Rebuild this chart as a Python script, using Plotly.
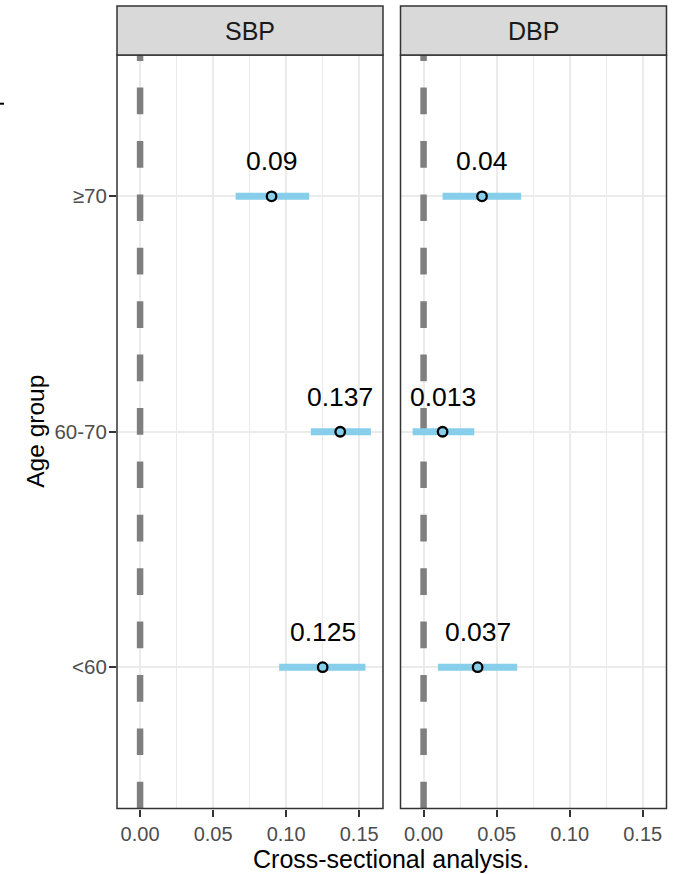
import plotly.graph_objects as go

# Age groups (bottom to top) and estimates with 95% intervals per outcome
age_groups = ["<60", "60-70", "≥70"]
panels = ["SBP", "DBP"]

sbp_est = [0.125, 0.137, 0.09]
sbp_lo = [0.0952, 0.1169, 0.0654]
sbp_hi = [0.1543, 0.158, 0.1158]

dbp_est = [0.037, 0.013, 0.04]
dbp_lo = [0.0098, -0.0075, 0.013]
dbp_hi = [0.0641, 0.0347, 0.0668]

x_ticks = [0.0, 0.05, 0.10, 0.15]
x_ticktext = ["0.00", "0.05", "0.10", "0.15"]

W, H = 676, 874
FONT = "Liberation Sans, Arial, sans-serif"
BLUE = "#87CEEB"
BORDER = "#333333"
GRID = "#EBEBEB"

# pixel geometry of the facet panels
panel_x = [(117, 383), (400.5, 666.5)]
panel_top, panel_bottom = 55, 808.5
strip_top = 6


def px_x(p):
    return p / W


def px_y(p):
    return (H - p) / H


xr = [-0.0158, 0.1663]
yr = [0.4, 3.6]

fig = go.Figure()

series = [(sbp_est, sbp_lo, sbp_hi), (dbp_est, dbp_lo, dbp_hi)]
ypos = list(range(1, len(age_groups) + 1))

for i, (est, lo, hi) in enumerate(series):
    xa = "x" if i == 0 else "x2"
    ya = "y" if i == 0 else "y2"
    # dashed reference line at zero, spanning the whole panel height
    fig.add_trace(go.Scatter(
        x=[0, 0], y=yr, mode="lines", xaxis=xa, yaxis=ya,
        line=dict(color="#7F7F7F", width=6.5, dash="26.7px,26.7px"),
        showlegend=False, hoverinfo="skip", cliponaxis=True,
    ))
    fig.add_trace(go.Scatter(
        x=est, y=ypos, mode="markers", xaxis=xa, yaxis=ya,
        marker=dict(size=9.5, color=BLUE, line=dict(color="black", width=2.3)),
        error_x=dict(type="data", symmetric=False,
                     array=[h - e for h, e in zip(hi, est)],
                     arrayminus=[e - l for e, l in zip(est, lo)],
                     thickness=7, width=0, color=BLUE),
        showlegend=False, hoverinfo="skip",
    ))
    for e, y in zip(est, ypos):
        fig.add_annotation(x=e, y=y, xref=xa, yref=ya, text=f"{e:g}",
                           showarrow=False, yshift=35,
                           font=dict(family=FONT, size=26.5, color="black"))

axis_common = dict(
    range=xr, tickvals=x_ticks, ticktext=x_ticktext, ticks="outside",
    ticklen=7, tickwidth=2, tickcolor=BORDER, showline=False, zeroline=False,
    showgrid=True, gridcolor=GRID, gridwidth=2.4,
    minor=dict(dtick=0.025, tick0=0, showgrid=True, gridcolor=GRID, gridwidth=1.2, ticks=""),
    tickfont=dict(family=FONT, size=20, color="#4D4D4D"),
)

fig.update_layout(
    width=W, height=H,
    margin=dict(l=0, r=0, t=0, b=0),
    paper_bgcolor="white", plot_bgcolor="white",
    xaxis=dict(domain=[px_x(panel_x[0][0]), px_x(panel_x[0][1])], anchor="y", **axis_common),
    xaxis2=dict(domain=[px_x(panel_x[1][0]), px_x(panel_x[1][1])], anchor="y2", **axis_common),
    yaxis=dict(domain=[px_y(panel_bottom), px_y(panel_top)], range=yr, anchor="x",
               tickvals=ypos, ticktext=age_groups, ticks="outside", ticklen=7,
               tickwidth=2, tickcolor=BORDER, showgrid=True, gridcolor=GRID,
               gridwidth=2.4, zeroline=False, showline=False,
               ticklabelstandoff=-2,
               tickfont=dict(family=FONT, size=20.5, color="#4D4D4D")),
    yaxis2=dict(domain=[px_y(panel_bottom), px_y(panel_top)], range=yr, anchor="x2",
                tickvals=ypos, showticklabels=False, ticks="", showgrid=True,
                gridcolor=GRID, gridwidth=2.4, zeroline=False, showline=False),
)

for i, name in enumerate(panels):
    x0, x1 = panel_x[i]
    # panel border
    fig.add_shape(type="rect", xref="paper", yref="paper",
                  x0=px_x(x0), x1=px_x(x1), y0=px_y(panel_bottom), y1=px_y(panel_top),
                  line=dict(color=BORDER, width=1.5), layer="above")
    # facet strip
    fig.add_shape(type="rect", xref="paper", yref="paper",
                  x0=px_x(x0), x1=px_x(x1), y0=px_y(panel_top), y1=px_y(strip_top),
                  fillcolor="#D9D9D9", line=dict(color=BORDER, width=1.5),
                  layer="above")
    fig.add_annotation(xref="paper", yref="paper", x=px_x((x0 + x1) / 2),
                       y=px_y((panel_top + strip_top) / 2), text=name, showarrow=False,
                       xanchor="center", yanchor="middle",
                       font=dict(family=FONT, size=25, color="#1A1A1A"))

# axis titles
fig.add_annotation(xref="paper", yref="paper",
                   x=px_x((panel_x[0][0] + panel_x[1][1]) / 2), y=px_y(859),
                   text="Cross-sectional analysis.", showarrow=False,
                   xanchor="center", yanchor="middle",
                   font=dict(family=FONT, size=25, color="black"))
fig.add_annotation(xref="paper", yref="paper", x=px_x(36),
                   y=px_y((panel_top + panel_bottom) / 2),
                   text="Age group", textangle=-90, showarrow=False,
                   xanchor="center", yanchor="middle",
                   font=dict(family=FONT, size=24.5, color="black"))

# small mark at the left edge
fig.add_shape(type="line", xref="paper", yref="paper", x0=0, x1=px_x(4),
              y0=px_y(103.7), y1=px_y(103.7), line=dict(color="black", width=2))

fig.write_html("out.html")
